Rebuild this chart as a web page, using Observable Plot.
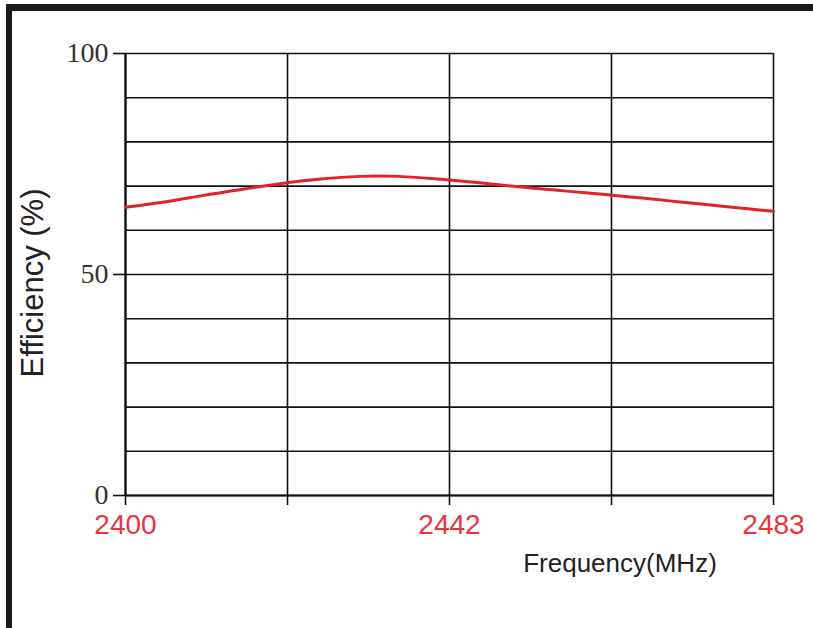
<!DOCTYPE html>
<html>
<head>
<meta charset="utf-8">
<script src="https://cdn.jsdelivr.net/npm/d3@7"></script>
<script src="https://cdn.jsdelivr.net/npm/@observablehq/plot@0.6"></script>
<style>
  html, body { margin: 0; padding: 0; background: #fff; }
  #wrap { position: relative; width: 813px; height: 628px; overflow: hidden; }
  .bt { position: absolute; left: 6px; top: 4px; width: 807px; height: 7px; background: #1a1a1a; }
  .bl { position: absolute; left: 6px; top: 4px; width: 6px; height: 624px; background: #1a1a1a; }
  .ylab { position: absolute; left: 33px; top: 283px; transform: translate(-50%, -50%) rotate(-90deg);
          font-family: "Liberation Sans", Arial, sans-serif; font-size: 31px; color: #222; white-space: nowrap; }
  .xlab { position: absolute; left: 620px; top: 563px; transform: translate(-50%, -50%);
          font-family: "Liberation Sans", Arial, sans-serif; font-size: 26px; color: #222; white-space: nowrap; }
</style>
</head>
<body>
<div id="wrap">
  <div class="bt"></div>
  <div class="bl"></div>
  <div class="ylab">Efficiency (%)</div>
  <div class="xlab">Frequency(MHz)</div>
</div>
<script>
const freq = [2400, 2405, 2410, 2415, 2420, 2425, 2430, 2435, 2440, 2445, 2450, 2455, 2460, 2465, 2470, 2475, 2480, 2483];
const efficiency = [65.2, 66.4, 67.9, 69.3, 70.6, 71.6, 72.2, 72.2, 71.6, 70.8, 69.9, 69.1, 68.3, 67.5, 66.6, 65.7, 64.8, 64.3];
const yTickLabels = [0, 50, 100];
const yGrid = d3.range(0, 101, 10);
const xDomain = [2400, 2483];
const xQuarters = d3.range(5).map(i => xDomain[0] + (xDomain[1] - xDomain[0]) * i / 4);
const xLabelIdx = [0, 2, 4];

const data = freq.map((f, i) => ({f, e: efficiency[i]}));

const plot = Plot.plot({
  width: 813,
  height: 628,
  marginLeft: 125,
  marginRight: 40,
  marginTop: 53,
  marginBottom: 133,
  style: {background: "transparent", overflow: "visible"},
  x: {domain: xDomain},
  y: {domain: [0, 100]},
  marks: [
    Plot.ruleY(yGrid, {stroke: "#111", strokeWidth: 1.6}),
    Plot.ruleX(xQuarters, {stroke: "#111", strokeWidth: 1.6}),
    Plot.ruleY([0], {stroke: "#111", strokeWidth: 2.2}),
    Plot.ruleX([xDomain[0]], {stroke: "#111", strokeWidth: 2.2}),
    Plot.axisY({ticks: yTickLabels, tickSize: 12, tickPadding: 5, label: null,
      fontFamily: "Liberation Serif, Times New Roman, serif", fontSize: 28,
      color: "#333", stroke: "#111", strokeWidth: 1.6}),
    Plot.axisX({ticks: xQuarters, tickSize: 10, tickPadding: 9, label: null,
      tickFormat: (d, i) => xLabelIdx.includes(i) ? d3.format("d")(d) : "",
      fontFamily: "Liberation Sans, Arial, sans-serif", fontSize: 28,
      fill: "#e8343a", stroke: "#111", strokeWidth: 1.6}),
    Plot.line(data, {x: "f", y: "e", stroke: "#e32228", strokeWidth: 3, curve: "natural"})
  ]
});
plot.style.position = "absolute";
plot.style.left = "0px";
plot.style.top = "0px";
document.getElementById("wrap").appendChild(plot);
</script>
</body>
</html>
